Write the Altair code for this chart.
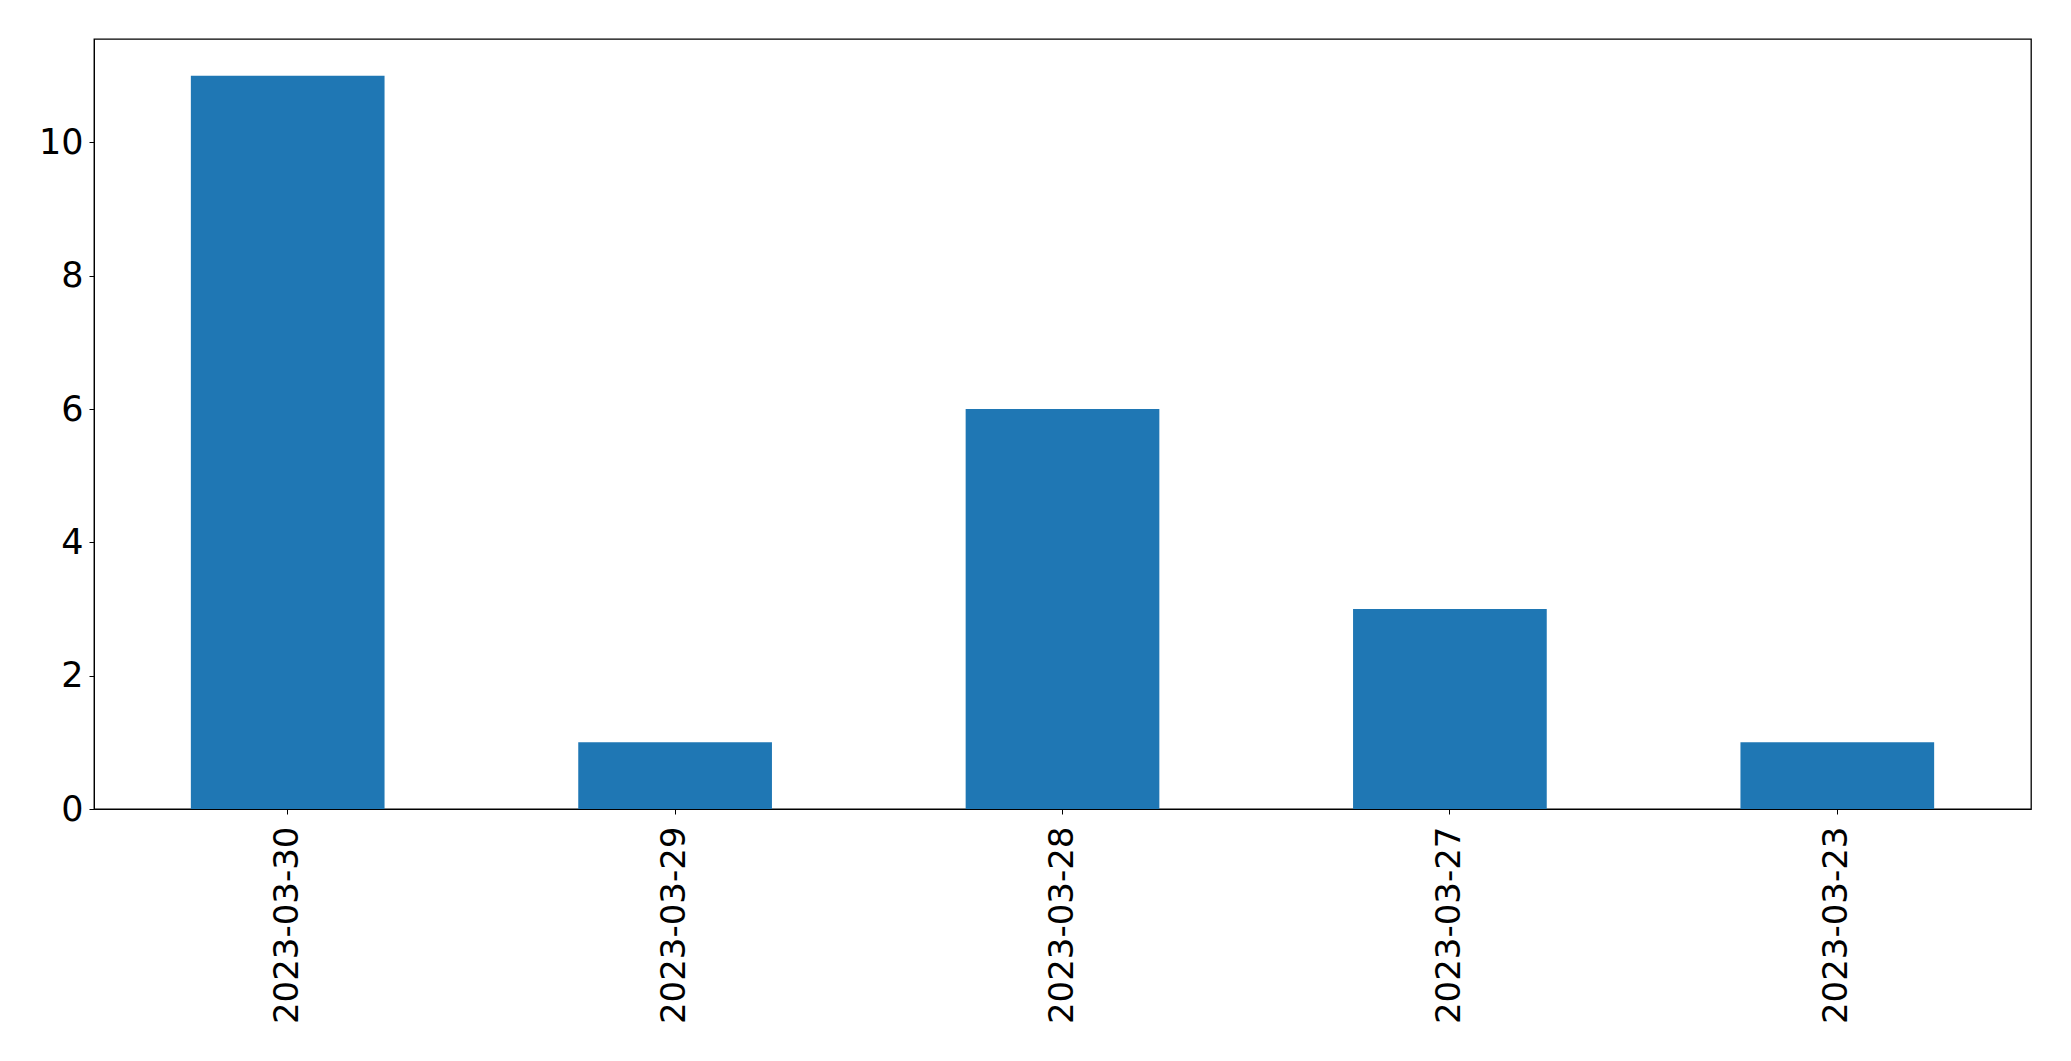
import altair as alt
import pandas as pd

dates = ["2023-03-30", "2023-03-29", "2023-03-28", "2023-03-27", "2023-03-23"]
counts = [11, 1, 6, 3, 1]
y_ticks = [0, 2, 4, 6, 8, 10]

df = pd.DataFrame({"date": dates, "count": counts})

font = "DejaVu Sans"

chart = alt.Chart(df).mark_bar(color="#1f77b4").encode(
    x=alt.X(
        "date:N",
        sort=dates,
        title=None,
        scale=alt.Scale(paddingInner=0.5, paddingOuter=0.25),
        axis=alt.Axis(
            labelAngle=270,
            labelAlign="right",
            labelBaseline="middle",
            labelFontSize=34,
            labelFont=font,
            labelColor="black",
            labelLimit=0,
            tickSize=5,
            tickColor="black",
            labelPadding=12,
            domainColor="black",
            grid=False,
        ),
    ),
    y=alt.Y(
        "count:Q",
        title=None,
        scale=alt.Scale(domain=[0, 11.55], nice=False, zero=True),
        axis=alt.Axis(
            values=y_ticks,
            labelFontSize=35,
            labelFont=font,
            labelColor="black",
            tickSize=5,
            tickColor="black",
            labelPadding=6,
            domainColor="black",
            grid=False,
        ),
    ),
).properties(
    width=1937,
    height=770,
    autosize=alt.AutoSizeParams(type="none"),
    padding={"left": 86, "top": 31, "right": 30, "bottom": 240},
).configure_view(
    stroke="black",
    strokeWidth=1.3,
)

chart.save("out.html", embed_options={"renderer": "svg", "actions": False})
